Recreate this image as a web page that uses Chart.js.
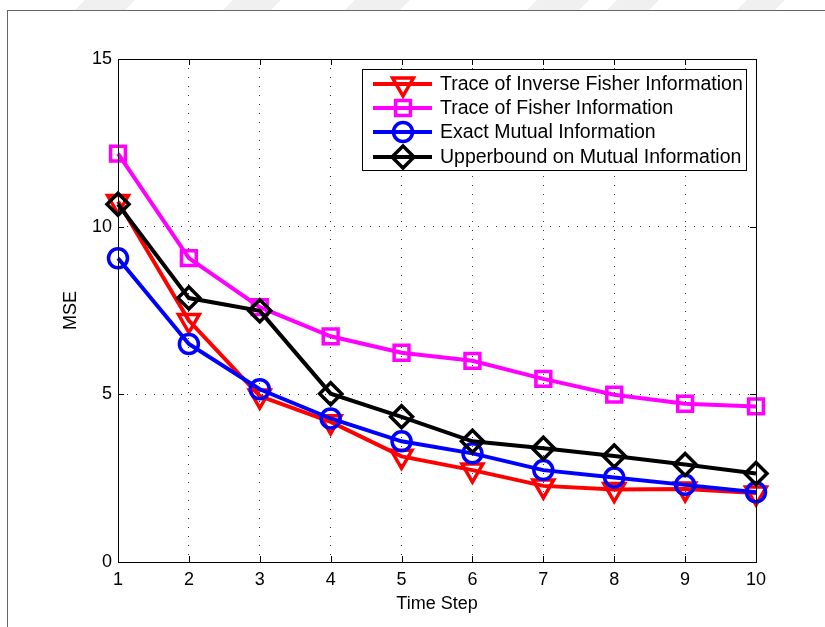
<!DOCTYPE html>
<html>
<head>
<meta charset="utf-8">
<script src="https://cdn.jsdelivr.net/npm/chart.js@4/dist/chart.umd.min.js"></script>
<style>
  html, body { margin: 0; padding: 0; background: #fff; }
  #wrap { position: relative; width: 825px; height: 627px; overflow: hidden; background: #fff; }
  #frame { position: absolute; left: 7px; top: 10px; width: 900px; height: 700px; border-left: 1px solid #666; border-top: 1px solid #666; }
  .stripe { position: absolute; top: 0; height: 10px; background: #f0f0f0; transform: skewX(-45deg); }
  canvas { position: absolute; left: 0; top: 0; }
</style>
</head>
<body>
<div id="wrap">
  <div class="stripe" style="left:80px;width:50px"></div>
  <div class="stripe" style="left:228px;width:48px"></div>
  <div class="stripe" style="left:350px;width:55px"></div>
  <div class="stripe" style="left:532px;width:52px"></div>
  <div class="stripe" style="left:612px;width:42px"></div>
  <div class="stripe" style="left:742px;width:38px"></div>
  <div id="frame"></div>
  <canvas id="c" width="825" height="627"></canvas>
</div>
<script>
// time steps on the x axis
const timeSteps = [1, 2, 3, 4, 5, 6, 7, 8, 9, 10];

// MSE
const inverseFisher = [10.75, 7.2, 4.95, 4.18, 3.15, 2.74, 2.27, 2.16, 2.18, 2.06];
const fisher = [12.18, 9.06, 7.6, 6.73, 6.24, 6.0, 5.46, 4.99, 4.72, 4.64];
const exactMI = [9.06, 6.5, 5.15, 4.28, 3.6, 3.24, 2.74, 2.52, 2.3, 2.08];
const upperMI = [10.67, 7.87, 7.49, 5.02, 4.33, 3.6, 3.39, 3.16, 2.91, 2.64];

const seriesNames = [
  'Trace of Inverse Fisher Information',
  'Trace of Fisher Information',
  'Exact Mutual Information',
  'Upperbound on Mutual Information'
];
const yTicks = [0, 5, 10, 15];

const FONT = 'Liberation Sans, Arial, Helvetica, sans-serif';

function pts(vals) {
  return timeSteps.map((t, i) => ({ x: t, y: vals[i] }));
}

function mk(label, vals, color, style, radius, rot, order) {
  return {
    label: label,
    data: pts(vals),
    borderColor: color,
    backgroundColor: 'rgba(0,0,0,0)',
    borderWidth: 4,
    pointStyle: style,
    pointRadius: radius,
    pointRotation: rot,
    pointBorderWidth: 3.5,
    pointBorderColor: color,
    pointBackgroundColor: 'rgba(0,0,0,0)',
    tension: 0,
    clip: false,
    order: order
  };
}

// draw a marker for the legend (hollow)
function marker(ctx, ds, x, y) {
  ctx.save();
  ctx.strokeStyle = ds.borderColor;
  ctx.fillStyle = 'rgba(0,0,0,0)';
  ctx.lineWidth = ds.pointBorderWidth;
  if (Chart.helpers && Chart.helpers.drawPoint) {
    Chart.helpers.drawPoint(ctx, {
      pointStyle: ds.pointStyle, rotation: ds.pointRotation,
      radius: ds.pointRadius, borderWidth: ds.pointBorderWidth
    }, x, y);
  }
  ctx.restore();
}

const boxPlugin = {
  id: 'box',
  afterDraw(chart) {
    const ctx = chart.ctx;
    const a = chart.chartArea;
    const xs = chart.scales.x, ys = chart.scales.y;
    ctx.save();
    // inner ticks
    ctx.strokeStyle = '#000';
    ctx.lineWidth = 1;
    ctx.beginPath();
    timeSteps.forEach(t => {
      const px = Math.round(xs.getPixelForValue(t)) + 0.5;
      ctx.moveTo(px, a.bottom); ctx.lineTo(px, a.bottom - 6);
      ctx.moveTo(px, a.top); ctx.lineTo(px, a.top + 6);
    });
    yTicks.forEach(v => {
      const py = Math.round(ys.getPixelForValue(v)) + 0.5;
      ctx.moveTo(a.left, py); ctx.lineTo(a.left + 6, py);
      ctx.moveTo(a.right, py); ctx.lineTo(a.right - 6, py);
    });
    ctx.stroke();
    // axes box
    ctx.strokeRect(Math.round(a.left) + 0.5, Math.round(a.top) + 0.5,
      Math.round(a.right - a.left), Math.round(a.bottom - a.top));

    // legend (MATLAB style: line through marker)
    const L = { x0: 362, y0: 69, x1: 746, y1: 170 };
    ctx.fillStyle = '#fff';
    ctx.fillRect(L.x0, L.y0, L.x1 - L.x0, L.y1 - L.y0);
    ctx.strokeStyle = '#000';
    ctx.lineWidth = 1;
    ctx.strokeRect(L.x0 + 0.5, L.y0 + 0.5, L.x1 - L.x0, L.y1 - L.y0);
    const rowsY = [84, 108, 132, 157];
    ctx.font = '19.5px ' + FONT;
    ctx.textBaseline = 'middle';
    ctx.textAlign = 'left';
    chart.data.datasets.forEach((ds, i) => {
      const y = rowsY[i];
      ctx.strokeStyle = ds.borderColor;
      ctx.lineWidth = 4;
      ctx.beginPath();
      ctx.moveTo(373, y); ctx.lineTo(432, y);
      ctx.stroke();
      marker(ctx, ds, 403, y);
      ctx.fillStyle = '#000';
      ctx.fillText(ds.label, 440, y + 1);
    });
    ctx.restore();
  }
};

new Chart(document.getElementById('c'), {
  type: 'line',
  data: {
    datasets: [
      mk(seriesNames[0], inverseFisher, '#ff0000', 'triangle', 12, 180, 4),
      mk(seriesNames[1], fisher, '#ff00ff', 'rect', 10.5, 0, 3),
      mk(seriesNames[2], exactMI, '#0000ff', 'circle', 9.5, 0, 2),
      mk(seriesNames[3], upperMI, '#000000', 'rectRot', 11, 0, 1)
    ]
  },
  options: {
    responsive: false,
    animation: false,
    events: [],
    layout: { padding: { left: 0, top: 59, right: 69, bottom: 0 } },
    plugins: { legend: { display: false }, tooltip: { enabled: false } },
    scales: {
      x: {
        type: 'linear', min: 1, max: 10,
        afterFit(s) { s.height = 65; },
        afterBuildTicks(s) { s.ticks = timeSteps.map(v => ({ value: v })); },
        ticks: { color: '#000', font: { family: FONT, size: 18 }, padding: 7, maxRotation: 0 },
        grid: { color: '#333', lineWidth: 1, drawTicks: false },
        border: { display: false, dash: [1, 8] },
        title: { display: true, text: 'Time Step', color: '#000', font: { family: FONT, size: 18 }, padding: { top: 0, bottom: 12 } }
      },
      y: {
        min: 0, max: 15,
        afterFit(s) { s.width = 118; },
        afterBuildTicks(s) { s.ticks = yTicks.map(v => ({ value: v })); },
        ticks: { color: '#000', font: { family: FONT, size: 18 }, padding: 6 },
        grid: { color: '#333', lineWidth: 1, drawTicks: false },
        border: { display: false, dash: [1, 8] },
        title: { display: true, text: 'MSE', color: '#000', font: { family: FONT, size: 18 }, padding: { top: 60, bottom: 0 } }
      }
    }
  },
  plugins: [boxPlugin]
});
</script>
</body>
</html>
